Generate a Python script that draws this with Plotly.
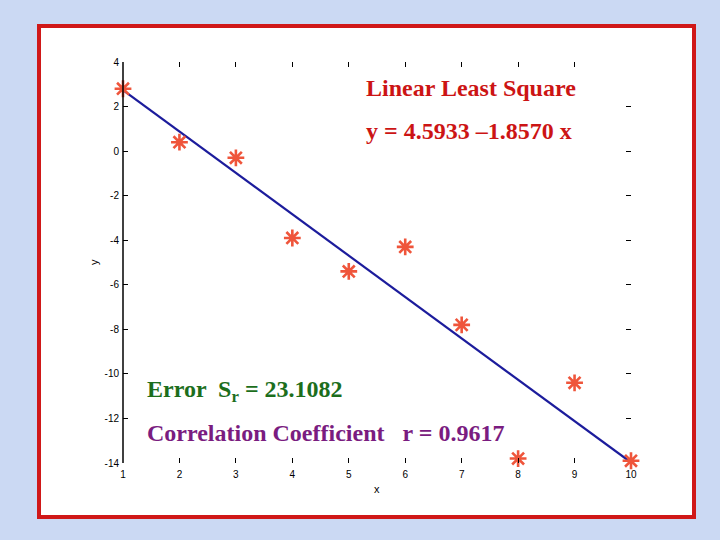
import plotly.graph_objects as go

# Data
x_data = [1, 2, 3, 4, 5, 6, 7, 8, 9, 10]
y_data = [2.8, 0.4, -0.3, -3.9, -5.4, -4.3, -7.8, -13.8, -10.4, -13.9]
intercept = 4.5933
slope = -1.8570
line_x = [1, 10]
line_y = [intercept + slope * v for v in line_x]

x_ticks = [1, 2, 3, 4, 5, 6, 7, 8, 9, 10]
x_ticktext = ["1", "2", "3", "4", "5", "6", "7", "8", "9", "10"]
y_ticks = [4, 2, 0, -2, -4, -6, -8, -10, -12, -14]
y_ticktext = ["4", "2", "0", "-2", "-4", "-6", "-8", "-10", "-12", "-14"]

fig = go.Figure()
fig.add_trace(go.Scatter(x=line_x, y=line_y, mode="lines",
                         line=dict(color="#1c1c9c", width=2.2),
                         showlegend=False, hoverinfo="skip", cliponaxis=False))
fig.add_trace(go.Scatter(x=x_data, y=y_data, mode="markers", cliponaxis=False,
                         marker=dict(symbol="asterisk-open", size=14,
                                     line=dict(color="#d40000", width=2.6)),
                         showlegend=False))

ml, mr, mt, mb = 123, 720 - 631, 62, 540 - 463
pw, ph = 631 - 123, 463 - 62

def px(xp):
    return (xp - ml) / pw

def py(yp):
    return (463 - yp) / ph

# white box with red border
fig.add_shape(type="rect", xref="paper", yref="paper",
              x0=px(39), x1=px(694), y0=py(517), y1=py(26),
              fillcolor="white", line=dict(color="#d01818", width=4),
              layer="below")
# left axis line
fig.add_shape(type="line", xref="paper", yref="paper", x0=0, x1=0, y0=0, y1=1,
              line=dict(color="black", width=1.5))

serif = "Liberation Serif, Times New Roman, serif"
ann = [
    dict(text="<b>Linear Least Square</b>", x=px(364), y=py(88), color="#cc1414"),
    dict(text="<b>y = 4.5933 \u20131.8570 x</b>", x=px(364), y=py(131), color="#cc1414"),
    dict(text="<b>Error  S<sub>r</sub> = 23.1082</b>", x=px(145), y=py(391), color="#1c6e1c"),
    dict(text="<b>Correlation Coefficient   r = 0.9617</b>", x=px(145), y=py(433), color="#7a1c80"),
]
for a in ann:
    fig.add_annotation(text=a["text"], x=a["x"], y=a["y"], xref="paper", yref="paper",
                       xanchor="left", yanchor="middle", showarrow=False,
                       font=dict(family=serif, size=24, color=a["color"]))

fig.add_annotation(text="x", x=px(377), y=py(489), xref="paper", yref="paper",
                   xanchor="center", yanchor="middle",
                   showarrow=False, font=dict(family="Liberation Sans, Arial", size=11, color="black"))
fig.add_annotation(text="y", x=px(94), y=py(262), xref="paper", yref="paper",
                   xanchor="center", yanchor="middle",
                   showarrow=False, textangle=-90,
                   font=dict(family="Liberation Sans, Arial", size=11, color="black"))

fig.update_layout(
    width=720, height=540,
    margin=dict(l=ml, r=mr, t=mt, b=mb),
    paper_bgcolor="#cbd9f3",
    plot_bgcolor="rgba(0,0,0,0)",
    font=dict(family="Liberation Sans, Arial", size=10, color="black"),
    xaxis=dict(range=[1, 10], tickvals=x_ticks, ticktext=x_ticktext,
               showgrid=False, zeroline=False, showline=False,
               ticks="inside", ticklen=5, tickcolor="black", mirror="ticks",
               ticklabelstandoff=4),
    yaxis=dict(range=[-14, 4], tickvals=y_ticks, ticktext=y_ticktext,
               showgrid=False, zeroline=False, showline=False,
               ticks="inside", ticklen=5, tickcolor="black", mirror="ticks",
               ticklabelstandoff=3),
)

fig.write_html("out.html", config={"displayModeBar": False})
with open("out.html", "r", encoding="utf-8") as f:
    html = f.read()
html = html.replace("<head>", "<head><style>html,body{margin:0;padding:0;}</style>", 1)
with open("out.html", "w", encoding="utf-8") as f:
    f.write(html)
